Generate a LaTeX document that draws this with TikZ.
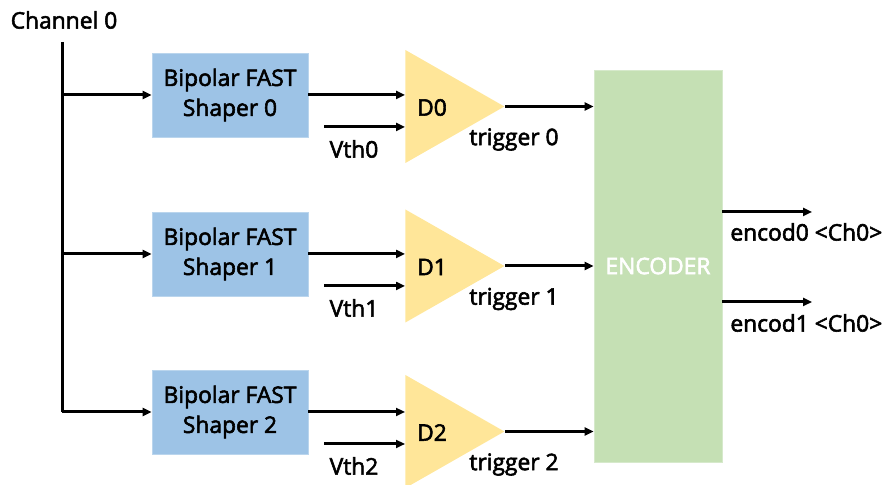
\documentclass[tikz,border=0pt]{standalone}
\usepackage{fontspec}
\setmainfont{Open Sans}[FakeBold=2.5]
\usetikzlibrary{arrows.meta,shapes.geometric}
\definecolor{shaperblue}{HTML}{9DC3E6}
\definecolor{discyellow}{HTML}{FFE699}
\definecolor{encgreen}{HTML}{C5E0B4}

\tikzset{
  wire/.style={line width=1.5pt},
  sig/.style={wire,-{Triangle[length=4.5pt,width=4pt]}},
  txt/.style={font=\fontsize{11.4}{15}\selectfont,inner sep=0pt},
  shaper/.style={txt,fill=shaperblue,draw=shaperblue!70!white,line width=0.4pt,
    minimum width=78pt,minimum height=42pt,align=center},
  disc/.style={isosceles triangle,isosceles triangle stretches,fill=discyellow,
    minimum width=56.5pt,minimum height=49.5pt,inner sep=0pt,anchor=west},
  encbox/.style={txt,fill=encgreen,draw=encgreen!70!white,line width=0.4pt,
    minimum width=64pt,minimum height=196pt,text=white}
}

\begin{document}
\begin{tikzpicture}[x=0.5pt,y=-0.5pt]
  \useasboundingbox (0,0) rectangle (888,485);

  \node[txt] (ch) at (64,20) {Channel 0};
  \coordinate (bus) at (62,42);
  \node[encbox] (enc) at (658,266) {ENCODER};

  \foreach \i/\ys/\yt in {0/95/106.5,1/254/266,2/412/431.5} {
    \node[shaper] (s\i) at (230,\ys) {Bipolar FAST\\Shaper \i};
    \node[disc] (d\i) at (405,\yt) {};
    \node[txt] (dl\i) at (432,\yt+1) {D\i};
    \coordinate (v\i) at (324,\ys+32);
    \node[txt] (vl\i) at (354,\ys+54) {Vth\i};
    \node[txt] (tl\i) at (514,\yt+33) {trigger \i};

    \draw[sig] (bus |- s\i.west) -- (s\i.west);
    \draw[sig] (s\i.east) -- (s\i.east -| d\i.west);
    \draw[sig] (v\i) -- (v\i -| d\i.west);
    \draw[sig] (d\i.east) -- (d\i.east -| enc.west);
  }
  \draw[wire] (bus) -- (bus |- s2.west);

  \coordinate (o0) at (812,212);
  \coordinate (o1) at (812,302);
  \draw[sig] (enc.east |- o0) -- (o0);
  \draw[sig] (enc.east |- o1) -- (o1);
  \node[txt,anchor=west] (ol0) at (730,232) {encod0 <Ch0>};
  \node[txt,anchor=west] (ol1) at (730,323) {encod1 <Ch0>};
\end{tikzpicture}
\end{document}
